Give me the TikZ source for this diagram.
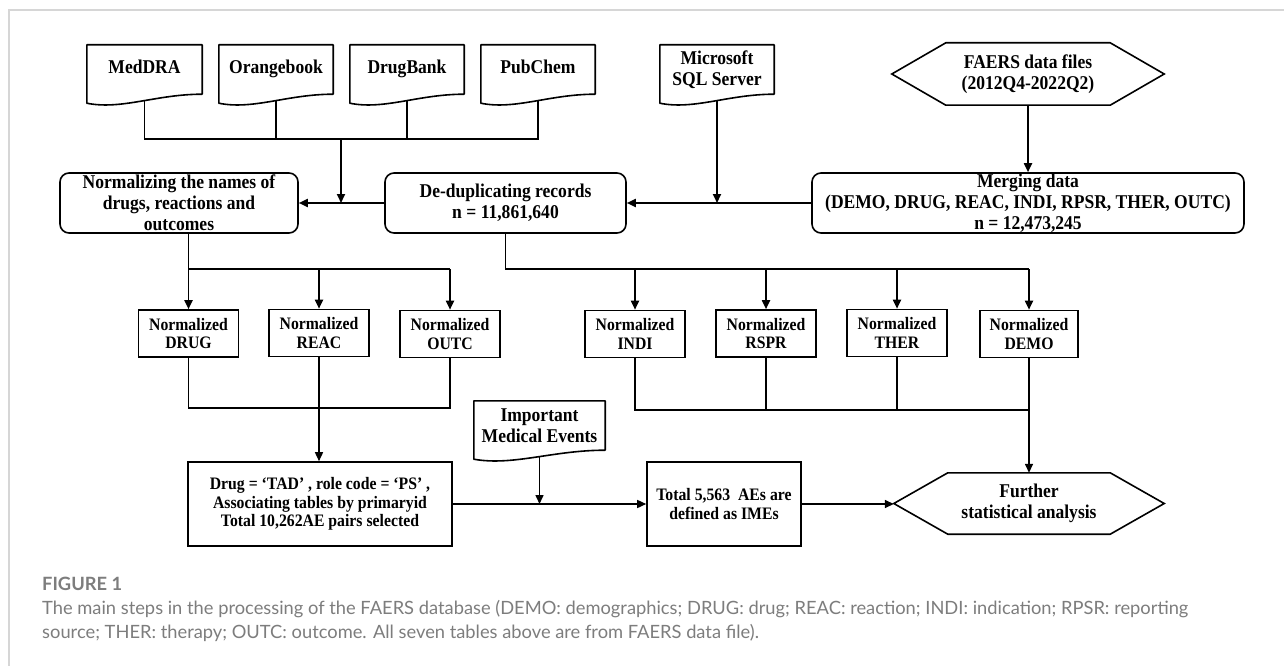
\documentclass[tikz,border=0pt]{standalone}
\usepackage{fontspec}
\usetikzlibrary{arrows.meta,calc}
\newfontfamily\tnr{Liberation Serif}[FakeStretch=0.9]
\newfontfamily\capfont{Lato}
\newcommand{\diaglarge}{\tnr\bfseries\fontsize{19.5}{21}\selectfont}
\newcommand{\diagsmall}{\tnr\bfseries\fontsize{17.5}{18.5}\selectfont}
\newcommand{\capsize}{\capfont\fontsize{18.3}{24}\selectfont}
\definecolor{bordergray}{RGB}{214,214,214}
\definecolor{capgray}{RGB}{125,125,125}
\tikzset{
  boxline/.style={draw=black, line width=1.6pt},
  docnode/.style={inner sep=0pt, align=center, font=\diaglarge},
  onelinedoc/.style={docnode, text height=13.5pt, text depth=4.5pt},
  docline/.style={boxline, line join=round},
  rbox/.style={boxline, rounded corners=9pt, inner sep=0pt, minimum height=60pt, align=center, font=\diaglarge},
  nbox/.style={boxline, inner sep=0pt, minimum width=100pt, minimum height=47pt, align=center, font=\diagsmall},
  sbox/.style={boxline, inner sep=0pt, minimum height=84pt, align=center, font=\diagsmall},
  hexnode/.style={inner sep=0pt, align=center, font=\diaglarge},
  conn/.style={line width=1.8pt},
  thin conn/.style={line width=1.5pt},
  arr/.style={conn, -{Triangle[length=9pt,width=8pt]}},
  thin arr/.style={thin conn, -{Triangle[length=9pt,width=8pt]}},
}
\newcommand{\docdraw}[1]{\draw[docline] (#1.south east) .. controls ($(#1.south west)!0.6!(#1.south east)$) and ($(#1.south west)!0.3!(#1.south east)+(0pt,-16pt)$) .. ([yshift=-9pt]#1.south west) -- (#1.north west) -- (#1.north east) -- cycle;}
\newcommand{\hexdraw}[2]{\draw[boxline, line join=miter] (#1.west) -- ([xshift=#2]#1.north west) -- ([xshift=-#2]#1.north east) -- (#1.east) -- ([xshift=-#2]#1.south east) -- ([xshift=#2]#1.south west) -- cycle;}
\begin{document}
\begin{tikzpicture}[x=1pt,y=-1pt]
\useasboundingbox[fill=white] (0,0) rectangle (1284,666);
\draw[bordergray, line width=1.5pt] (9,666) -- (9,10) -- (1284,10);

% document sources
\node[onelinedoc, minimum width=115pt, minimum height=49pt] (med) at (144.5,69.5) {MedDRA};
\node[onelinedoc, minimum width=114pt, minimum height=49pt] (orb) at (276,69.5) {Orangebook};
\node[onelinedoc, minimum width=114pt, minimum height=49pt] (dbk) at (407,69.5) {DrugBank};
\node[onelinedoc, minimum width=114pt, minimum height=49pt] (pub) at (538,69.5) {PubChem};
\node[docnode, minimum width=114pt, minimum height=49pt] (sql) at (717,69.5) {Microsoft\\SQL Server};
\node[docnode, minimum width=131pt, minimum height=49pt] (imed) at (539.5,425.5) {Important\\Medical Events};
\docdraw{med}
\docdraw{orb}
\docdraw{dbk}
\docdraw{pub}
\docdraw{sql}
\docdraw{imed}

% hexagons
\node[hexnode, minimum width=272pt, minimum height=62pt] (faers) at (1028,74) {FAERS data files\\(2012Q4-2022Q2)};
\hexdraw{faers}{54pt}
\node[hexnode, minimum width=270pt, minimum height=61pt] (further) at (1029,503.5) {Further\\statistical analysis};
\hexdraw{further}{54pt}

% rounded process boxes
\node[rbox, minimum width=238pt] (norm) at (179,203) {Normalizing the names of\\drugs, reactions and\\outcomes};
\node[rbox, minimum width=241pt] (dedup) at (505.5,203) {De-duplicating records\\n = 11,861,640};
\node[rbox, minimum width=432pt] (merge) at (1028,203) {Merging data\\(DEMO, DRUG, REAC, INDI, RPSR, THER, OUTC)\\n = 12,473,245};

% normalized tables
\node[nbox] (drug) at (188.5,333.5) {Normalized\\DRUG};
\node[nbox] (reac) at (319,333) {Normalized\\REAC};
\node[nbox] (outc) at (450,334) {Normalized\\OUTC};
\node[nbox] (indi) at (635,334) {Normalized\\INDI};
\node[nbox] (rspr) at (766,333.5) {Normalized\\RSPR};
\node[nbox] (ther) at (897,333) {Normalized\\THER};
\node[nbox, minimum width=98pt] (demo) at (1029,334) {Normalized\\DEMO};

% bottom boxes
\node[sbox, minimum width=264pt] (tad) at (320,504) {Drug = ‘TAD’ , role code = ‘PS’ ,\\Associating tables by primaryid\\Total 10,262AE pairs selected};
\node[sbox, minimum width=154pt] (ime) at (724,504) {Total 5,563\ \ AEs are\\defined as IMEs};

% top bus
\coordinate (bus1) at (341,139);
\draw[conn] ([yshift=-6pt]med.south) -- (med.south |- bus1) -- (pub.south |- bus1) -- ([yshift=-6pt]pub.south);
\draw[conn] ([yshift=-6pt]orb.south) -- (orb.south |- bus1);
\draw[conn] ([yshift=-6pt]dbk.south) -- (dbk.south |- bus1);
\draw[arr] (bus1) -- (bus1 |- norm.east);

% main row
\draw[arr] (dedup.west) -- (norm.east);
\draw[arr] (merge.west) -- (dedup.east);
\draw[arr] ([yshift=-6pt]sql.south) -- (sql.south |- dedup.east);
\draw[arr] (faers.south) -- (faers.south |- merge.north);

% second bus (left)
\coordinate (bus2) at (0,269);
\draw[arr] (drug.north |- norm.south) -- (drug.north);
\draw[conn] (drug.north |- bus2) -- (outc.north |- bus2);
\draw[arr] (reac.north |- bus2) -- (reac.north);
\draw[arr] (outc.north |- bus2) -- (outc.north);

% second bus (right)
\draw[conn] (dedup.south) -- (dedup.south |- bus2) -- (demo.north |- bus2);
\draw[arr] (indi.north |- bus2) -- (indi.north);
\draw[arr] (rspr.north |- bus2) -- (rspr.north);
\draw[arr] (ther.north |- bus2) -- (ther.north);
\draw[arr] (demo.north |- bus2) -- (demo.north);

% lower buses
\coordinate (bus3) at (0,408);
\coordinate (bus4) at (0,410);
\draw[conn] (drug.south) -- (drug.south |- bus3) -- (outc.south |- bus3) -- (outc.south);
\draw[thin arr] (reac.south) -- (reac.south |- tad.north);
\draw[conn] (indi.south) -- (indi.south |- bus4) -- (demo.south |- bus4);
\draw[conn] (rspr.south) -- (rspr.south |- bus4);
\draw[conn] (ther.south) -- (ther.south |- bus4);
\draw[thin arr] (demo.south) -- (demo.south |- further.north);

% bottom row
\draw[thin arr] (tad.east) -- (ime.west);
\draw[thin arr] ([yshift=-6pt]imed.south) -- (imed.south |- tad.east);
\draw[thin arr] (ime.east) -- (ime.east -| further.west);

% caption
\node[anchor=base west, inner sep=0pt, font=\capsize\bfseries, text=capgray] (figlabel) at (42,590) {FIGURE 1};
\node[anchor=base west, inner sep=0pt, font=\capsize, text=capgray] (cap1) at (42,614) {The main steps in the processing of the FAERS database (DEMO: demographics; DRUG: drug; REAC: reaction; INDI: indication; RPSR: reporting};
\node[anchor=base west, inner sep=0pt, font=\capsize, text=capgray] (cap2) at (42,638) {source; THER: therapy; OUTC: outcome. All seven tables above are from FAERS data file).};
\end{tikzpicture}
\end{document}
